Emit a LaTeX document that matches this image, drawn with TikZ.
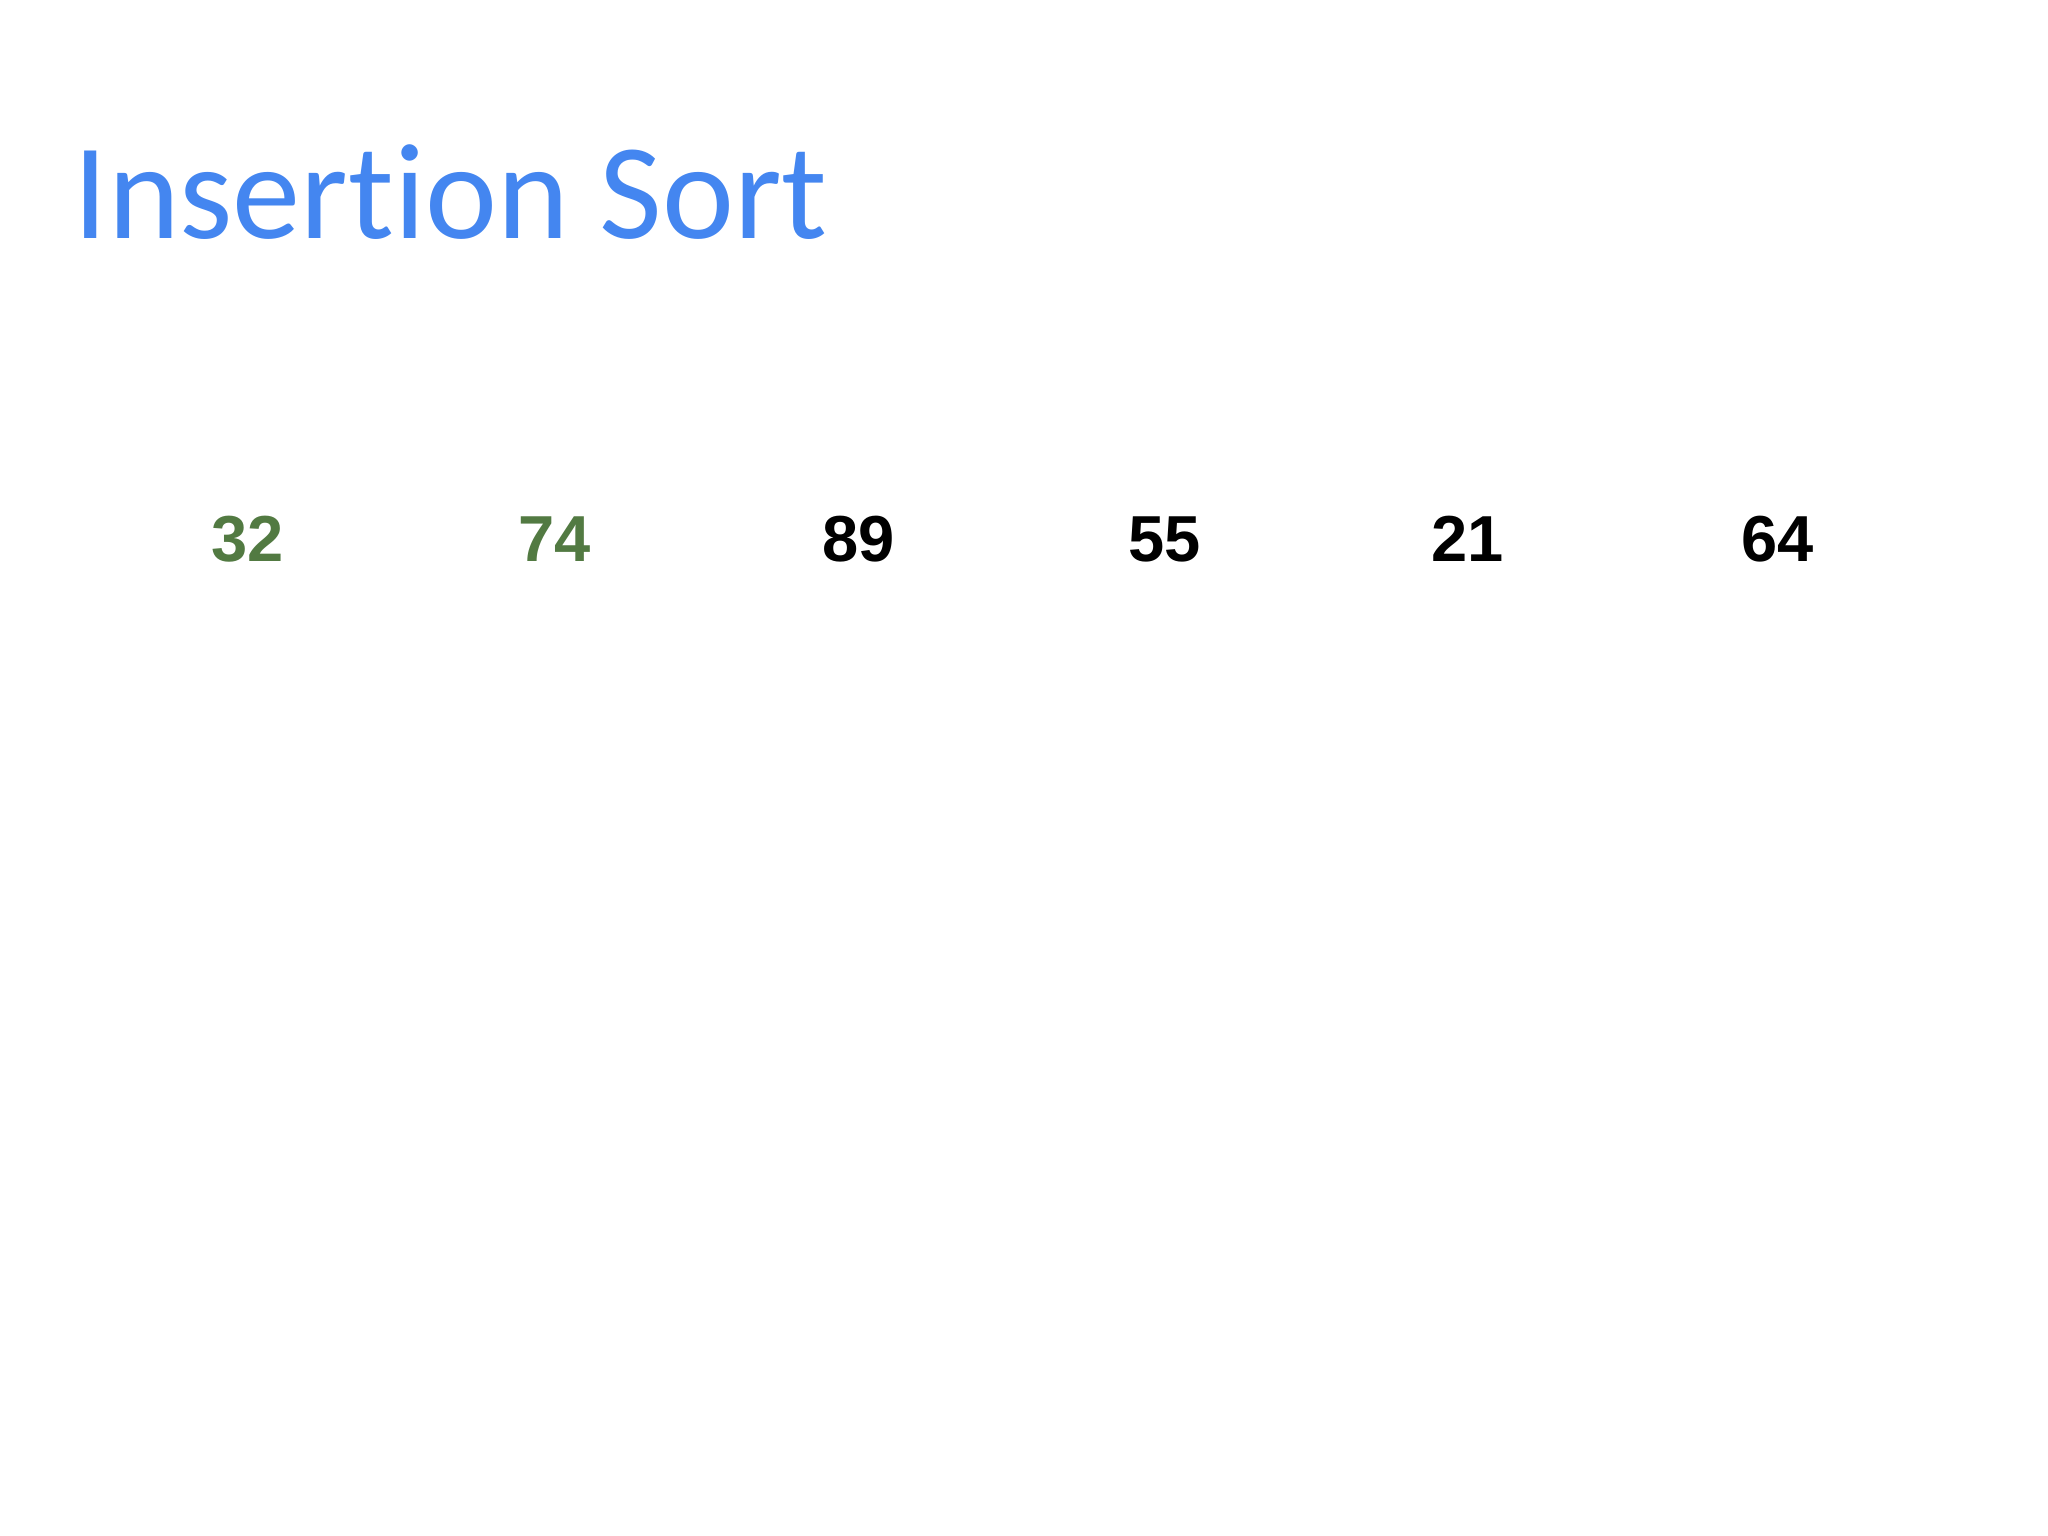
\documentclass[tikz,border=0pt]{standalone}
\usepackage{fontspec}
\setmainfont{Liberation Sans}
\newfontfamily\titlefont[Ligatures=NoCommon]{Carlito}
\definecolor{titleblue}{RGB}{68,134,240}
\definecolor{sortedgreen}{RGB}{82,122,66}
\tikzset{
	numbox/.style={anchor=base, font=\fontsize{18.5}{22}\selectfont\bfseries, inner sep=0pt},
}
\begin{document}
\begin{tikzpicture}
	
	% Page
	\useasboundingbox[fill=white] (0,0) rectangle (20.48,-15.36);
	
	% Title
	\node[anchor=base west, inner sep=0pt, text=titleblue, font=\titlefont\fontsize{38.8}{46}\selectfont] (title) at (0.73,-2.39) {Insertion Sort};
	
	% Sorted Part
	\foreach \x/\v/\n in {2.48/32/a, 5.55/74/b}
	{
		\node[numbox, text=sortedgreen] (\n) at (\x,-5.62) {\v};
	}
	% Unsorted Part
	\foreach \x/\v/\n in {8.59/89/c, 11.65/55/d, 14.68/21/e, 17.78/64/f}
	{
		\node[numbox, text=black] (\n) at (\x,-5.62) {\v};
	}
	
\end{tikzpicture}
\end{document}
